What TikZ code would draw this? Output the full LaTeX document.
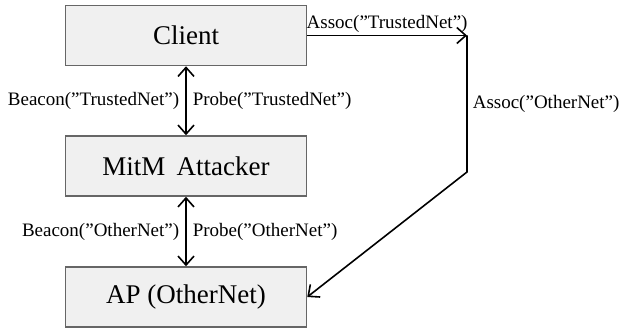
\documentclass[tikz,border=0pt]{standalone}
\usepackage{fontspec}
\setmainfont{Liberation Serif}
\usetikzlibrary{arrows.meta}
\definecolor{boxfill}{HTML}{F0F0F0}
\definecolor{boxline}{HTML}{666666}
\tikzset{
  entity/.style={draw=boxline, line width=1.5pt, fill=boxfill, minimum width=241pt, minimum height=60pt, inner sep=0pt, font=\fontsize{27}{30}\selectfont},
  link/.style={line width=1.6pt, black},
  lbl/.style={font=\fontsize{19}{21}\selectfont, inner sep=6pt}
}
\begin{document}
\begin{tikzpicture}
\useasboundingbox (0pt,0pt) rectangle (621pt,-329pt);
\node[entity] (client) at (186pt,-35.5pt) {Client};
\node[entity] (mitm) at (186pt,-166pt) {MitM\hskip0.42em Attacker};
\node[entity] (ap) at (186pt,-297pt) {AP (OtherNet)};
\coordinate (c1) at (467pt,-35.5pt);
\coordinate (c2) at (467pt,-172pt);
\draw[link, {Straight Barb[length=9pt,width=16pt]}-{Straight Barb[length=9pt,width=16pt]}] (mitm) -- (client)
  node[lbl, midway, left] {Beacon(”TrustedNet”)}
  node[lbl, midway, right] {Probe(”TrustedNet”)};
\draw[link, {Straight Barb[length=9pt,width=16pt]}-{Straight Barb[length=9pt,width=16pt]}] (ap) -- (mitm)
  node[lbl, midway, left] {Beacon(”OtherNet”)}
  node[lbl, midway, right] {Probe(”OtherNet”)};
\draw[link, -{Straight Barb[length=9pt,width=16pt]}] (client.east) -- (c1)
  node[lbl, midway, above, inner sep=2pt] {Assoc(”TrustedNet”)};
\draw[link, -{Straight Barb[length=9pt,width=16pt]}] (c1) -- node[lbl, midway, right, inner sep=5pt] {Assoc(”OtherNet”)} (c2) -- (ap.east);
\end{tikzpicture}
\end{document}
